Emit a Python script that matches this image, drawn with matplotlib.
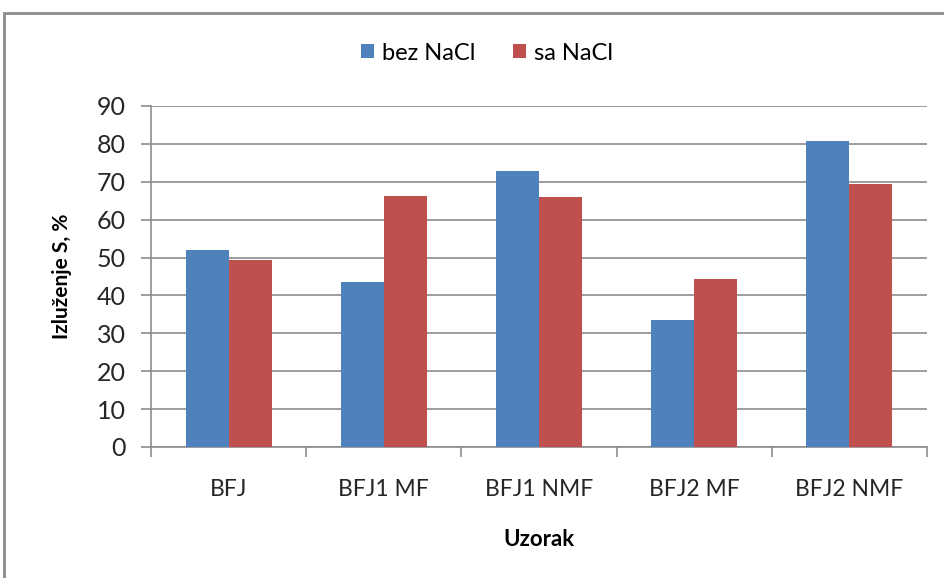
import numpy as np
import matplotlib
matplotlib.use("Agg")
import matplotlib.pyplot as plt
from matplotlib.patches import Rectangle

# data
categories = ["BFJ", "BFJ1 MF", "BFJ1 NMF", "BFJ2 MF", "BFJ2 NMF"]
bez_nacl = [52.0, 43.6, 72.8, 33.5, 80.8]
sa_nacl = [49.4, 66.2, 66.0, 44.3, 69.5]
series_names = ["bez NaCl", "sa NaCl"]
yticks = list(range(0, 100, 10))

plt.rcParams['font.family'] = ['Lato', 'DejaVu Sans']

fig = plt.figure(figsize=(9.44, 5.78), dpi=100, facecolor='white')
ax = fig.add_axes([151 / 944, 131 / 578, 776 / 944, 341 / 578])

x = np.arange(len(categories))
w = 0.277
b1 = ax.bar(x - w / 2, bez_nacl, w, color='#4F81BD', label=series_names[0], zorder=3)
b2 = ax.bar(x + w / 2, sa_nacl, w, color='#C0504D', label=series_names[1], zorder=3)

ax.set_xlim(-0.5, len(categories) - 0.5)
ax.set_ylim(0, 90)
ax.set_yticks(yticks)
ax.set_yticklabels([str(t) for t in yticks], fontsize=18, color='#262626')
ax.yaxis.grid(True, color='#8c8c8c', linewidth=1.2, zorder=0)
ax.set_axisbelow(True)

# category labels between boundary ticks
ax.set_xticks(np.arange(len(categories) + 1) - 0.5)
ax.set_xticklabels([])
ax.set_xticks(x, minor=True)
ax.set_xticklabels(categories, minor=True, fontsize=16.5, color='#262626')
ax.tick_params(axis='x', which='minor', length=0, pad=23)
ax.tick_params(axis='x', which='major', length=7, width=1.2, color='#8c8c8c')
ax.tick_params(axis='y', length=7, width=1.2, color='#8c8c8c', pad=11)

for s in ['top', 'right']:
    ax.spines[s].set_visible(False)
for s in ['left', 'bottom']:
    ax.spines[s].set_color('#8c8c8c')
    ax.spines[s].set_linewidth(1.2)

ax.set_ylabel("Izluženje S, %", fontsize=15, fontweight='bold', labelpad=18)
ax.set_xlabel("Uzorak", fontsize=16, fontweight='bold', labelpad=21)

fig.legend(handles=[b1, b2], labels=series_names, loc='center', ncol=2,
           bbox_to_anchor=(487 / 944, 1 - 53 / 578), frameon=False, fontsize=17,
           handlelength=0.55, handleheight=0.55, handletextpad=0.35, columnspacing=1.6)

# outer chart frame
fig.patches.append(Rectangle((4 / 944, -0.1), 1.2, 1 - 13 / 578 + 0.1,
                             transform=fig.transFigure, fill=False,
                             edgecolor='#8c8c8c', linewidth=2))

fig.savefig("out.png", dpi=100, facecolor='white')
